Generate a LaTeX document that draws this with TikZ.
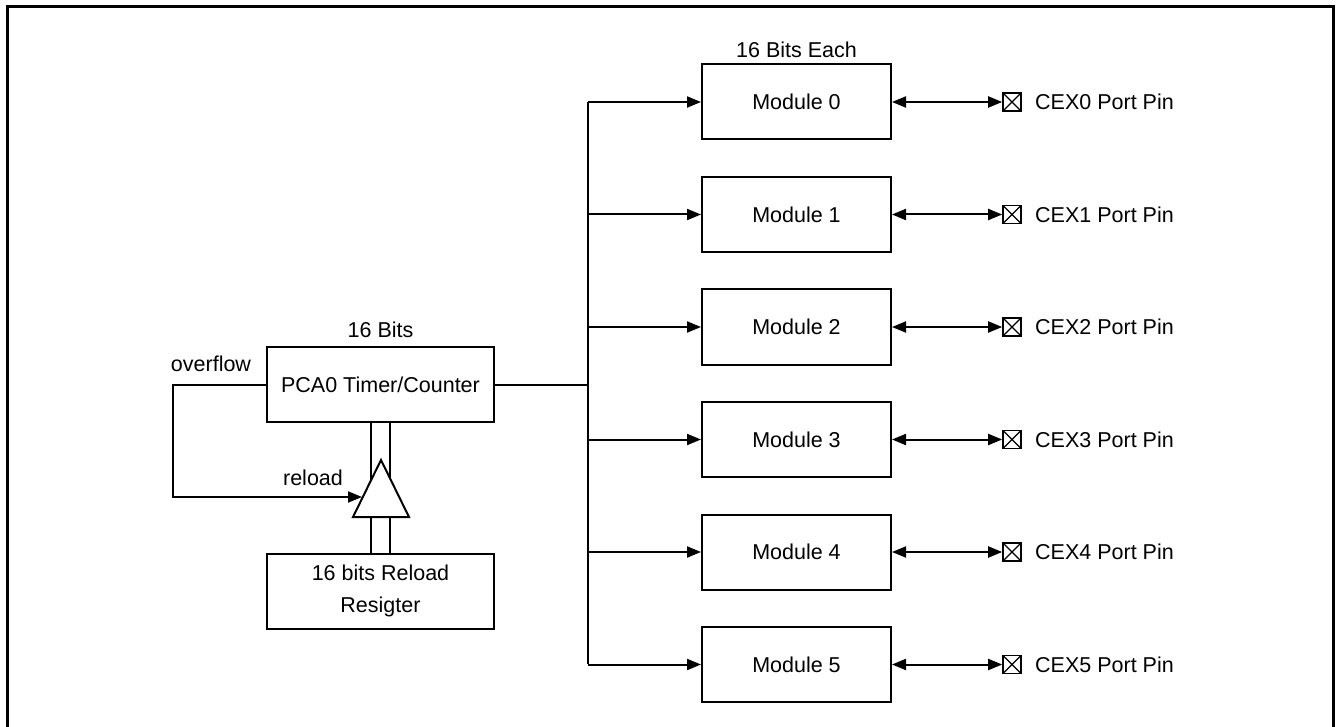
\documentclass[tikz,border=0pt]{standalone}
\usepackage{fontspec}
\setmainfont{Liberation Sans}
\usetikzlibrary{arrows.meta}
\begin{document}
\begin{tikzpicture}[x=1pt,y=-1pt,
  every node/.style={font=\fontsize{21.5}{26}\selectfont, inner sep=0pt},
  blk/.style={draw, line width=2pt, minimum width=189pt, minimum height=75pt, align=center},
  bigblk/.style={draw, line width=2pt, minimum width=227pt, minimum height=75pt, align=center},
  wire/.style={line width=2pt},
  arr/.style={wire, -{Triangle[length=14pt,width=11pt]}},
  darr/.style={wire, {Triangle[length=14pt,width=11pt]}-{Triangle[length=14pt,width=11pt]}},
  pin/.style={draw, line width=1.6pt, minimum width=18pt, minimum height=18pt, path picture={\draw[line width=1.3pt] (path picture bounding box.north west) -- (path picture bounding box.south east) (path picture bounding box.north east) -- (path picture bounding box.south west);}},
  lbl/.style={anchor=west}
]
\useasboundingbox (0,0) rectangle (1341,727);
% frame
\coordinate (fbl) at (7,730);
\coordinate (ftl) at (7,7);
\coordinate (ftr) at (1333,7);
\coordinate (fbr) at (1333,730);
\draw[line width=3pt] (fbl) -- (ftl) -- (ftr) -- (fbr);

% PCA0 timer
\node[bigblk] (pca) at (380.5,384.5) {PCA0 Timer/Counter};
\node (bits16) at (380.5,330) {16 Bits};
\node[bigblk] (rel) at (380.5,591) {16 bits Reload\\[6pt]Resigter};

% triangle
\coordinate (tA) at (381,460);
\coordinate (tL) at (353,517);
\coordinate (tR) at (409,517);
\draw[wire, line join=miter] (tA) -- (tL) -- (tR) -- cycle;

% double bus lines
\coordinate (b1t) at (371,422);
\coordinate (b1m) at (371,480);
\coordinate (b2t) at (390,422);
\coordinate (b2m) at (390,478);
\coordinate (b1b) at (371,517);
\coordinate (b1r) at (371,554);
\coordinate (b2b) at (390,517);
\coordinate (b2r) at (390,554);
\draw[wire] (b1t) -- (b1m) (b2t) -- (b2m) (b1b) -- (b1r) (b2b) -- (b2r);

% overflow loop
\coordinate (ov1) at (173,385);
\coordinate (ov2) at (173,497);
\coordinate (tin) at (362,497);
\draw[arr] (pca.west |- ov1) -- (ov1) -- (ov2) -- (tin);
\node (ovl) at (211,364) {overflow};
\node (rll) at (313,478) {reload};

% bus
\coordinate (jn) at (588,385);
\coordinate (bus0) at (588,102);
\coordinate (bus5) at (588,664);
\draw[wire] (pca.east |- jn) -- (jn);
\draw[wire] (bus0) -- (bus5);

\node (each) at (796.5,50) {16 Bits Each};

\foreach \i/\y in {0/102,1/214.5,2/327,3/439.5,4/552,5/664.5}{
  \node[blk] (m\i) at (796.5,\y) {Module \i};
  \coordinate (bj\i) at (588,\y);
  \draw[arr] (bj\i) -- (m\i.west);
  \node[pin] (p\i) at (1012,\y) {};
  \draw[darr] (m\i.east) -- (p\i.west);
  \node[lbl] (t\i) at (1035,\y) {CEX\i{} Port Pin};
}
\end{tikzpicture}
\end{document}
